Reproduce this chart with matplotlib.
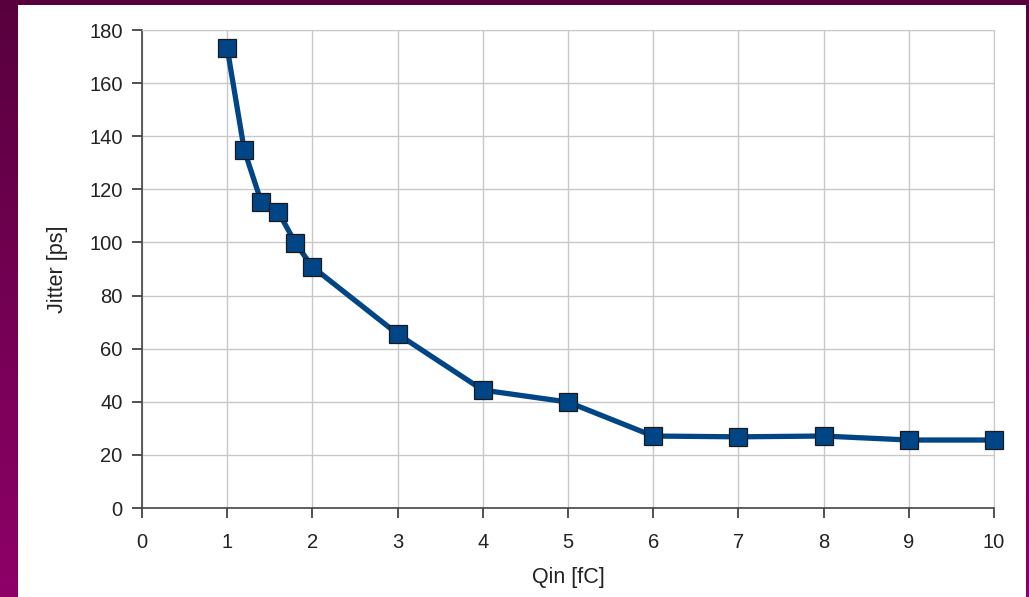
import matplotlib.pyplot as plt
import numpy as np
from matplotlib.patches import Rectangle

plt.rcParams['font.family'] = ['Liberation Sans', 'DejaVu Sans']

qin = [1, 1.2, 1.4, 1.6, 1.8, 2, 3, 4, 5, 6, 7, 8, 9, 10]
jitter = [173.2, 134.8, 115.2, 111.5, 99.8, 90.8, 65.5, 44.4, 39.9, 27.1, 26.8, 27.1, 25.6, 25.6]
x_ticks = list(range(0, 11))
y_ticks = list(range(0, 181, 20))

W, H = 1029, 597
fig = plt.figure(figsize=(W / 100, H / 100), dpi=100)

# purple gradient background with white panel
bg = fig.add_axes([0, 0, 1, 1])
grad = np.linspace(0, 1, 256).reshape(-1, 1)
top = np.array([0x58, 0x00, 0x3e]) / 255
bot = np.array([0x8e, 0x00, 0x68]) / 255
img = top + (bot - top) * grad[:, :, None]
bg.imshow(img, aspect='auto', extent=[0, W, H, 0])
bg.add_patch(Rectangle((18, 5), 1008, H, facecolor='white', edgecolor='none'))
bg.set_xlim(0, W)
bg.set_ylim(H, 0)
bg.axis('off')

ax = fig.add_axes([142 / W, 1 - 508 / H, (994 - 142) / W, (508 - 30) / H])
ax.plot(qin, jitter, color='#004586', linewidth=3.8, marker='s', markersize=13,
        markerfacecolor='#004586', markeredgecolor='#1a1a1a', markeredgewidth=0.9,
        zorder=3, clip_on=False)

ax.set_xlim(0, 10)
ax.set_ylim(0, 180)
ax.set_xticks(x_ticks)
ax.set_yticks(y_ticks)
ax.grid(True, color='#c8c8c8', linewidth=1)
ax.set_axisbelow(True)
for s in ['top', 'right']:
    ax.spines[s].set_color('#c8c8c8')
for s in ['left', 'bottom']:
    ax.spines[s].set_color('#444444')
    ax.spines[s].set_linewidth(1.2)
ax.tick_params(axis='both', direction='out', length=7, width=1.2, color='#333333',
               labelsize=14.5, labelcolor='#222222')
ax.tick_params(axis='x', pad=11)
ax.tick_params(axis='y', pad=7)
ax.set_xlabel('Qin [fC]', fontsize=15.5, color='#222222', labelpad=11)
ax.set_ylabel('Jitter [ps]', fontsize=15.5, color='#222222', labelpad=15)

fig.savefig('out.png', dpi=100)
